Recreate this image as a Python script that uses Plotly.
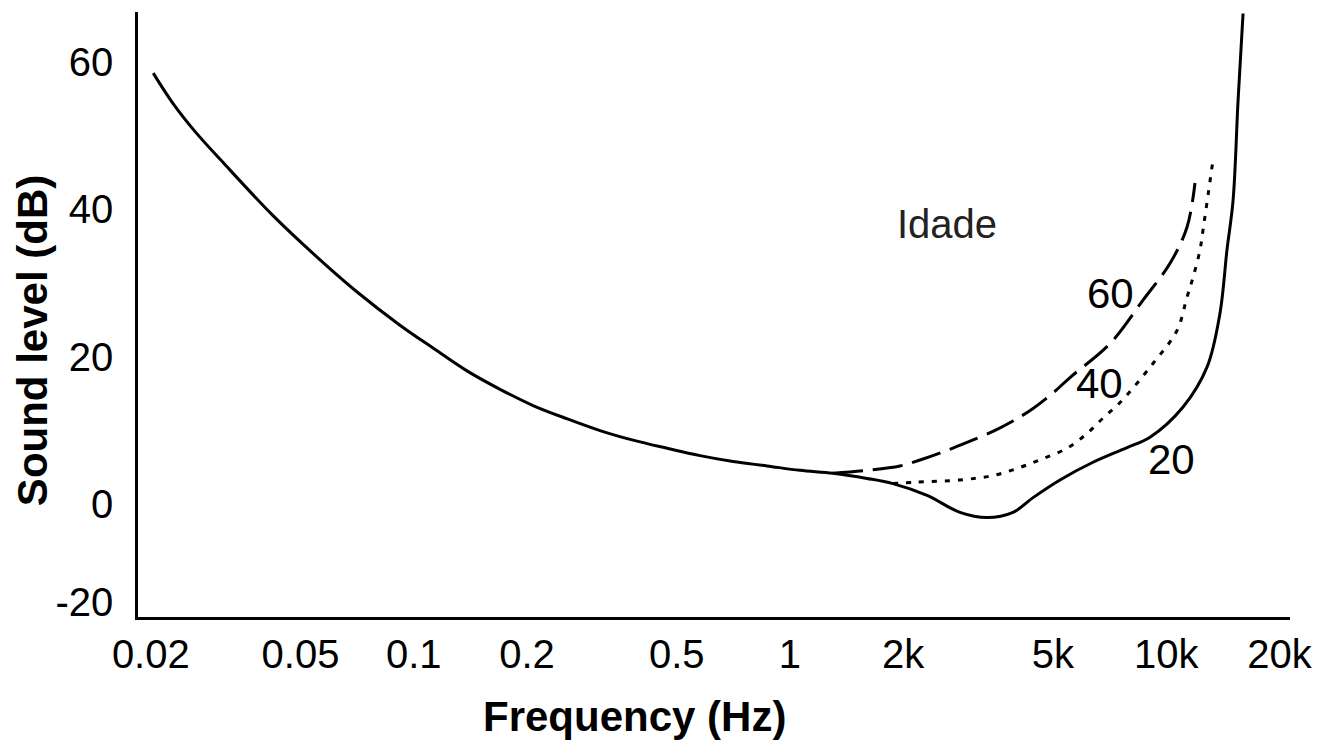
import numpy as np
import plotly.graph_objects as go

# hearing threshold curves by age (Hz, dB)
freq_20 = [20.3, 22.9, 26.2, 31.1, 42.2, 55.7, 70.7, 91.9, 112.5, 138.5, 169.6, 207.5,
           255.5, 312.7, 382.6, 471.2, 576.8, 705.8, 869, 1063, 1301, 1602, 1878, 2314,
           2831, 3340, 3916, 4428, 5221, 6391, 7872, 9060, 11090, 12840, 13900, 14510,
           15060, 15530, 16010]
level_20 = [58.5, 54.4, 50.6, 46.4, 39.2, 33.4, 28.8, 24.3, 21.2, 18.1, 15.6, 13.4,
            11.6, 10.0, 8.7, 7.6, 6.6, 5.8, 5.2, 4.6, 4.2, 3.5, 2.8, 1.2,
            -1.1, -1.8, -1.1, 0.9, 3.3, 5.7, 7.7, 9.1, 13.2, 18.6, 25.9, 34.5,
            41.2, 54.8, 66.6]

freq_40 = [1878, 2150, 2831, 3465, 4088, 4706, 5450, 6161, 6795, 7542, 9226, 10690,
           11360, 11790, 12300, 12530, 13320]
level_40 = [2.8, 3.0, 3.3, 3.9, 5.0, 6.2, 7.6, 9.6, 11.7, 13.8, 19.1, 23.6,
            28.1, 30.8, 34.5, 37.2, 46.7]

freq_60 = [1301, 1602, 1961, 2217, 2552, 2955, 3465, 3916, 4428, 5002, 5552, 7092,
           8680, 10240, 11360, 11930]
level_60 = [4.2, 4.6, 5.2, 6.0, 7.1, 8.4, 9.9, 11.3, 13.0, 15.1, 17.2, 21.8,
            27.7, 32.7, 37.6, 43.6]

x_tick_vals = [20, 50, 100, 200, 500, 1000, 2000, 5000, 10000, 20000]
x_tick_text = ["0.02", "0.05", "0.1", "0.2", "0.5", "1", "2k", "5k", "10k", "20k"]
# the original squeezes its "-20" label just above the baseline
y_tick_vals = [-13.3, 0, 20, 40, 60]
y_tick_text = ["-20", "0", "20", "40", "60"]

age_labels = ["60", "40", "20"]

FONT = "Liberation Sans, Arial, sans-serif"
NARROW = "Liberation Sans Narrow, Arial Narrow, Liberation Sans, sans-serif"

fig = go.Figure()
fig.add_trace(go.Scatter(x=freq_60, y=level_60, mode="lines", line_shape="spline",
                         line=dict(color="black", width=3, dash="30px,10px")))
fig.add_trace(go.Scatter(x=freq_40, y=level_40, mode="lines", line_shape="spline",
                         line=dict(color="black", width=3, dash="5px,8px")))
fig.add_trace(go.Scatter(x=freq_20, y=level_20, mode="lines", line_shape="spline",
                         line=dict(color="black", width=3)))

# curve labels (x given in log10 units on a log axis)
label_pos = [(np.log10(7092), 28.6), (np.log10(6670), 16.4), (np.log10(10360), 6.1)]
for txt, (lx, ly) in zip(age_labels, label_pos):
    fig.add_annotation(x=lx, y=ly, xref="x", yref="y", text=txt, showarrow=False,
                       xanchor="center", yanchor="middle",
                       font=dict(family=NARROW, size=42, color="black"))

fig.add_annotation(x=np.log10(2616), y=38.0, xref="x", yref="y", text="Idade",
                   showarrow=False, xanchor="center", yanchor="middle",
                   font=dict(family=FONT, size=40, color="#222"))

fig.add_annotation(x=0.4314, y=-0.165, xref="paper", yref="paper",
                   text="<b>Frequency (Hz)</b>", showarrow=False,
                   xanchor="center", yanchor="middle",
                   font=dict(family=FONT, size=42, color="black"))
fig.add_annotation(x=-0.092, y=0.456, xref="paper", yref="paper", textangle=-90,
                   text="<b>Sound level (dB)</b>", showarrow=False,
                   xanchor="center", yanchor="middle",
                   font=dict(family=FONT, size=42, color="black"))

fig.update_xaxes(type="log", range=[1.267, 4.3292], tickvals=x_tick_vals,
                 ticktext=x_tick_text, ticks="", showgrid=False, zeroline=False,
                 showline=True, linecolor="black", linewidth=2.5,
                 ticklabelstandoff=0, automargin=False,
                 tickfont=dict(family=FONT, size=40, color="black"))
fig.update_yaxes(range=[-15.3, 66.8], tickvals=y_tick_vals, ticktext=y_tick_text,
                 ticks="", showgrid=False, zeroline=False,
                 showline=True, linecolor="black", linewidth=2.5,
                 ticklabelstandoff=14, automargin=False,
                 tickfont=dict(family=FONT, size=40, color="black"))

# page body adds an 8px offset, so the figure is 8px smaller than the window
fig.update_layout(template="none", width=1316, height=733, showlegend=False,
                  paper_bgcolor="white", plot_bgcolor="white",
                  margin=dict(l=130, r=34, t=4, b=124))

fig.write_html("out.html")
